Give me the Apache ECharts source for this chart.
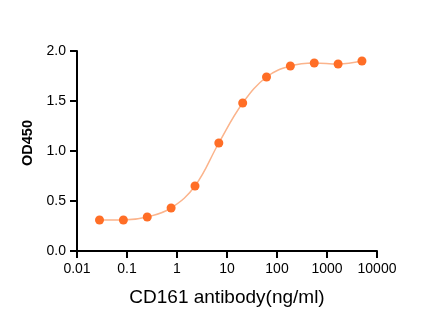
<!DOCTYPE html>
<html>
<head>
<meta charset="utf-8">
<script src="https://cdn.jsdelivr.net/npm/echarts@6/dist/echarts.min.js"></script>
<style>
  html, body { margin: 0; padding: 0; background: #fff; }
  #chart { width: 442px; height: 327px; }
</style>
</head>
<body>
<div id="chart"></div>
<script>
// 3-fold serial dilution of CD161 antibody (ng/ml)
const concentrations = [0.0282, 0.0847, 0.254, 0.762, 2.29, 6.86, 20.6, 61.7, 185, 556, 1667, 5000];
// OD450 readings
const od450 = [0.31, 0.31, 0.34, 0.43, 0.65, 1.08, 1.48, 1.74, 1.85, 1.88, 1.87, 1.90];
const yTicks = [0, 0.5, 1.0, 1.5, 2.0];
const xTickLabels = ['0.01', '0.1', '1', '10', '100', '1000', '10000'];

const points = concentrations.map((c, i) => [c, od450[i]]);

const myChart = echarts.init(document.getElementById('chart'));
const fontFamily = 'Liberation Sans, Arial, sans-serif';

const option = {
  animation: false,
  grid: { left: 77, right: 65, top: 51, bottom: 76 },
  xAxis: {
    type: 'log',
    logBase: 10,
    min: 0.01,
    max: 10000,
    name: 'CD161 antibody(ng/ml)',
    nameLocation: 'middle',
    nameGap: 37,
    nameTextStyle: { fontFamily, fontSize: 19, color: '#000' },
    axisLine: { lineStyle: { color: '#000', width: 2 } },
    axisTick: { show: true, inside: false, length: 7, lineStyle: { color: '#000', width: 2 } },
    minorTick: { show: false },
    splitLine: { show: false },
    axisLabel: {
      fontFamily, fontSize: 14, color: '#000',
      margin: 11,
      formatter: v => xTickLabels[Math.round(Math.log10(v)) + 2] || ''
    }
  },
  yAxis: {
    type: 'value',
    min: yTicks[0],
    max: yTicks[yTicks.length - 1],
    interval: 0.5,
    name: 'OD450',
    nameLocation: 'middle',
    nameGap: 41,
    nameRotate: 90,
    nameTextStyle: { fontFamily, fontSize: 14.5, fontWeight: 'bold', color: '#000', padding: [0, 0, 0, 16] },
    axisLine: { show: true, lineStyle: { color: '#000', width: 2 } },
    axisTick: { show: true, inside: false, length: 7, lineStyle: { color: '#000', width: 2 } },
    splitLine: { show: false },
    axisLabel: {
      fontFamily, fontSize: 14, color: '#000',
      margin: 11,
      formatter: v => v.toFixed(1)
    }
  },
  series: [
    {
      type: 'line',
      data: points,
      smooth: 0.4,
      symbol: 'circle',
      symbolSize: 9,
      lineStyle: { color: '#FBB48C', width: 1.5 },
      itemStyle: { color: '#FF6E26', borderWidth: 0 },
      z: 3
    }
  ]
};

myChart.setOption(option);
</script>
</body>
</html>
